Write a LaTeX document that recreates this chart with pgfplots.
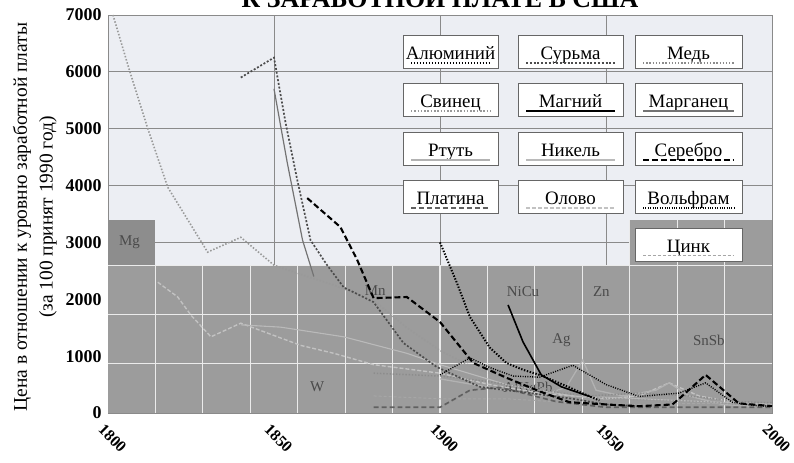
\documentclass[border=0pt]{standalone}
\usepackage{fontspec}
\setmainfont{Liberation Serif}
\usepackage{pgfplots}
\pgfplotsset{compat=1.18}
\definecolor{bgup}{HTML}{ECEEF3}
\definecolor{bgdown}{HTML}{9C9C9C}
\definecolor{gridc}{HTML}{8A8A8A}
\definecolor{labc}{HTML}{4A4A4A}
\tikzset{
 sAl/.style={black, line width=2pt, dash pattern=on 1.4pt off 1.6pt},
 sSb/.style={black!70, line width=1.7pt, dash pattern=on 2pt off 1.8pt},
 sCu/.style={black!45, line width=1.5pt, dash pattern=on 1.4pt off 1.8pt},
 sPb/.style={black!40, line width=1.6pt, dash pattern=on 1.5pt off 1.8pt},
 sMg/.style={black, line width=1.6pt},
 sMn/.style={black!55, line width=1.2pt},
 sHg/.style={black!30, line width=1.3pt},
 sNi/.style={black!27, line width=1.1pt},
 sAg/.style={black, line width=2.1pt, dash pattern=on 6pt off 3pt},
 sPt/.style={black!62, line width=1.7pt, dash pattern=on 5pt off 3pt},
 sSn/.style={black!24, line width=1.4pt, dash pattern=on 4pt off 2pt},
 sW/.style={black, line width=1.4pt, dash pattern=on 1pt off 1.4pt},
 sZn/.style={black!35, line width=1pt, dash pattern=on 3pt off 2pt},
}
\newcommand{\lbox}[5]{%
 \draw[fill=white, draw=black!60, line width=0.9pt] (#1,#2) rectangle ++(#3,-33);
 \node[anchor=base, inner sep=0pt, font=\fontsize{19}{19}\selectfont] at ({#1+#3/2},{#2-25}) {#4};
 \draw[#5] ({#1+8},{#2-28}) -- ({#1+#3-8},{#2-28});
}
\begin{document}
\begin{tikzpicture}
\begin{axis}[name=ax, scale only axis, width=664bp, height=398bp,
 xmin=1800, xmax=2000, ymin=0, ymax=7000,
 axis background/.style={fill=bgup},
 xtick={1800,1850,1900,1950,2000}, ytick={0,1000,2000,3000,4000,5000,6000,7000},
 grid=major, grid style={draw=gridc, line width=0.9pt},
 axis line style={draw=gridc, line width=0.9pt},
 major tick length=0pt,
 /pgf/number format/assume math mode=true,
 /pgf/number format/1000 sep={},
 xticklabel style={font=\fontsize{16}{16}\selectfont\bfseries, inner sep=0pt, xshift=-3bp, yshift=-10bp, rotate=-45, anchor=north west},
 yticklabel style={font=\fontsize{18}{18}\selectfont\bfseries, xshift=-3bp},
]
% grey overlay panels
\fill[bgdown] (axis cs:1800,0) rectangle (axis cs:2000,2600);
\fill[bgdown!90!black] (axis cs:1800,2600) rectangle (axis cs:1814.29,3400);
\fill[bgdown] (axis cs:1957.14,2600) rectangle (axis cs:2000,3400);
\pgfplotsinvokeforeach{1814.29,1828.57,1842.86,1857.14,1871.43,1885.71,1900,1914.29,1928.57,1942.86}{
 \draw[white!92!black, line width=1.1pt] (axis cs:#1,0) -- (axis cs:#1,2600);}
\pgfplotsinvokeforeach{1957.14,1971.43,1985.71}{
 \draw[white!92!black, line width=1.1pt] (axis cs:#1,0) -- (axis cs:#1,3400);}
\pgfplotsinvokeforeach{867,1733,2600}{
 \draw[white!92!black, line width=1.1pt] (axis cs:1800,#1) -- (axis cs:2000,#1);}
% region labels
\begin{scope}[every node/.style={text=labc, font=\fontsize{15}{15}\selectfont}]
\node at (axis cs:1806.5,3000) {Mg};
\node at (axis cs:1880.5,2160) {Mn};
\node at (axis cs:1863,460) {W};
\node at (axis cs:1925,2130) {NiCu};
\node at (axis cs:1948.6,2130) {Zn};
\node at (axis cs:1936.6,1280) {Ag};
\node at (axis cs:1981,1280) {SnSb};
\node at (axis cs:1926.5,430) {AlHgPb};
\end{scope}
% series
\addplot[sSn] coordinates {(1815,2300)(1821,2040)(1825,1720)(1831,1340)(1840,1580)(1858,1190)(1868,1050)(1880,850)(1900,700)(1915,500)(1930,350)(1950,250)(1960,300)(1969,530)(1978,300)(1990,180)(2000,150)};
\addplot[sNi] coordinates {(1840,1550)(1852,1510)(1871,1340)(1890,1050)(1900,850)(1920,500)(1940,300)(1960,250)(1980,200)(2000,150)};
\addplot[sHg] coordinates {(1900,600)(1910,500)(1920,400)(1930,300)(1938,450)(1943,930)(1947,400)(1955,300)(1965,400)(1969,530)(1975,300)(1985,150)(2000,100)};
\addplot[sZn] coordinates {(1880,300)(1900,250)(1920,250)(1940,180)(1960,150)(1980,170)(2000,150)};
\addplot[sCu] coordinates {(1880,700)(1900,650)(1915,550)(1930,400)(1945,300)(1960,350)(1975,300)(1990,200)(2000,180)};
\addplot[sPt] coordinates {(1880,100)(1900,100)(1909,400)(1918,450)(1925,350)(1935,200)(1950,100)(1970,100)(2000,100)};
\addplot[sPb] coordinates {(1801.5,7000)(1806.6,6000)(1812,5000)(1818,3970)(1830,2830)(1840,3090)(1850,2600)(1860,2400)(1868,2250)(1880,1980)(1890,1500)(1900,1100)(1910,800)(1920,600)(1930,450)(1940,330)(1950,260)(1960,230)(1970,220)(1980,200)(1990,150)(2000,130)};
\addplot[sSb] coordinates {(1840,5900)(1850,6250)(1853.5,5100)(1857,4100)(1861,3040)(1866,2600)(1871,2210)(1880,1950)(1889,1230)(1899,810)(1912,460)(1927,350)(1940,250)(1950,150)(1960,120)};
\addplot[sMn] coordinates {(1850,5700)(1854,4400)(1858.6,3040)(1862,2400)};
\addplot[sW] coordinates {(1900,670)(1909,970)(1915,800)(1922,650)(1930,630)(1940,840)(1950,500)(1960,290)(1972,350)(1980,530)(1988,190)(1995,130)(2000,120)};
\addplot[sAg] coordinates {(1860,3780)(1870,3270)(1875,2700)(1880,2020)(1890,2040)(1900,1600)(1910,880)(1920,620)(1930,380)(1939,190)(1950,150)(1960,120)(1970,150)(1972,250)(1980,670)(1990,170)(2000,120)};
\addplot[sAl] coordinates {(1900,3000)(1905,2300)(1909,1690)(1915,1150)(1920,880)(1925,760)(1930,670)(1937,500)(1944,320)(1948,220)};
\addplot[sMg] coordinates {(1920.5,1900)(1925,1250)(1930.5,670)(1936.6,460)(1945.6,280)};
\end{axis}
\begin{scope}[shift={(ax.south west)}, x=1bp, y=1bp]
 \lbox{295}{378}{95}{Алюминий}{sAl}
 \lbox{410}{378}{105}{Сурьма}{sSb}
 \lbox{527}{378}{107}{Медь}{sCu}
 \lbox{295}{330}{95}{Свинец}{sPb}
 \lbox{410}{330}{105}{Магний}{sMg}
 \lbox{527}{330}{107}{Марганец}{sMn}
 \lbox{295}{281}{95}{Ртуть}{sHg}
 \lbox{410}{281}{105}{Никель}{sNi}
 \lbox{527}{281}{107}{Серебро}{sAg}
 \lbox{295}{233}{95}{Платина}{sPt}
 \lbox{410}{233}{105}{Олово}{sSn}
 \lbox{527}{233}{107}{Вольфрам}{sW}
 \lbox{527}{185}{107}{Цинк}{sZn}
 \node[anchor=base, font=\fontsize{26}{26}\selectfont\bfseries] at (332,405) {К ЗАРАБОТНОЙ ПЛАТЕ В США};
 \node[rotate=90, font=\fontsize{19.5}{19.5}\selectfont] at (-86,196) {Цена в отношении к уровню заработной платы};
 \node[rotate=90, font=\fontsize{19.5}{19.5}\selectfont] at (-60,196) {(за 100 принят 1990 год)};
 \pgfresetboundingbox
 \path[use as bounding box] (-108,-50) rectangle (686,413);
\end{scope}
\end{tikzpicture}
\end{document}
